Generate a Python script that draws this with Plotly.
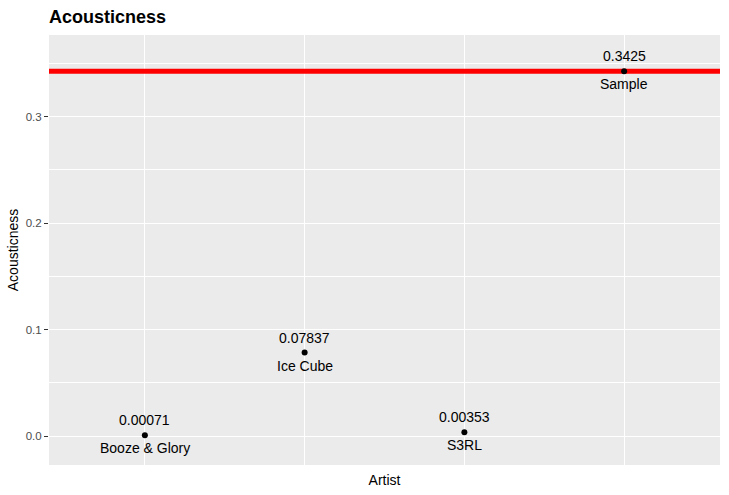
import plotly.graph_objects as go

# Acousticness per artist
artists = ["Booze & Glory", "Ice Cube", "S3RL", "Sample"]
acousticness = [0.00071, 0.07837, 0.00353, 0.3425]
value_labels = ["0.00071", "0.07837", "0.00353", "0.3425"]
sample_value = 0.3425

y_ticks = [0.0, 0.1, 0.2, 0.3]
y_tick_text = ["0.0", "0.1", "0.2", "0.3"]

font_family = "Liberation Sans, Arial, sans-serif"

positions = list(range(len(artists)))
x_range = [-0.6, len(artists) - 1 + 0.6]  # ggplot's discrete expansion

fig = go.Figure()

# red reference line at the sample's value (drawn under the points)
fig.add_trace(go.Scatter(
    x=x_range, y=[sample_value, sample_value], mode="lines",
    line=dict(color="#FF0000", width=5), showlegend=False, hoverinfo="skip",
))

fig.add_trace(go.Scatter(
    x=positions, y=acousticness, mode="markers",
    marker=dict(color="black", size=6),
    text=artists, showlegend=False, hoverinfo="text+y",
))

# value above, artist name below each point
for p, a, v, lab in zip(positions, artists, acousticness, value_labels):
    fig.add_annotation(x=p, y=v, text=lab, showarrow=False, yshift=15,
                       font=dict(size=14, color="black"))
    fig.add_annotation(x=p, y=v, text=a, showarrow=False, yshift=-13,
                       font=dict(size=14, color="black"))

fig.update_layout(
    width=729, height=495,
    margin=dict(l=49, r=9, t=35, b=30),
    paper_bgcolor="white",
    plot_bgcolor="#EBEBEB",
    font=dict(family=font_family, color="black"),
    title=dict(text="<b>Acousticness</b>", x=49 / 729, xanchor="left",
               y=1 - 17 / 495, yanchor="middle", font=dict(size=18, color="black")),
    xaxis=dict(
        range=x_range, tickvals=positions,
        showticklabels=False, ticks="",
        showgrid=True, gridcolor="white", gridwidth=1.1,
        zeroline=False, showline=False,
        title=dict(text="Artist", font=dict(size=14), standoff=10),
    ),
    yaxis=dict(
        range=[-0.0272, 0.3765],
        tickvals=y_ticks, ticktext=y_tick_text,
        ticks="outside", ticklen=4, tickwidth=1, tickcolor="#333333",
        tickfont=dict(size=11.5, color="#4D4D4D"),
        showgrid=True, gridcolor="white", gridwidth=1.1,
        minor=dict(tickvals=[0.05, 0.15, 0.25, 0.35], showgrid=True,
                   gridcolor="white", gridwidth=0.5, ticks=""),
        zeroline=False, showline=False,
        title=dict(text="Acousticness", font=dict(size=14), standoff=3),
    ),
)

fig.write_html("out.html", config={"displayModeBar": False},
               post_script="document.body.style.margin = '0';")
